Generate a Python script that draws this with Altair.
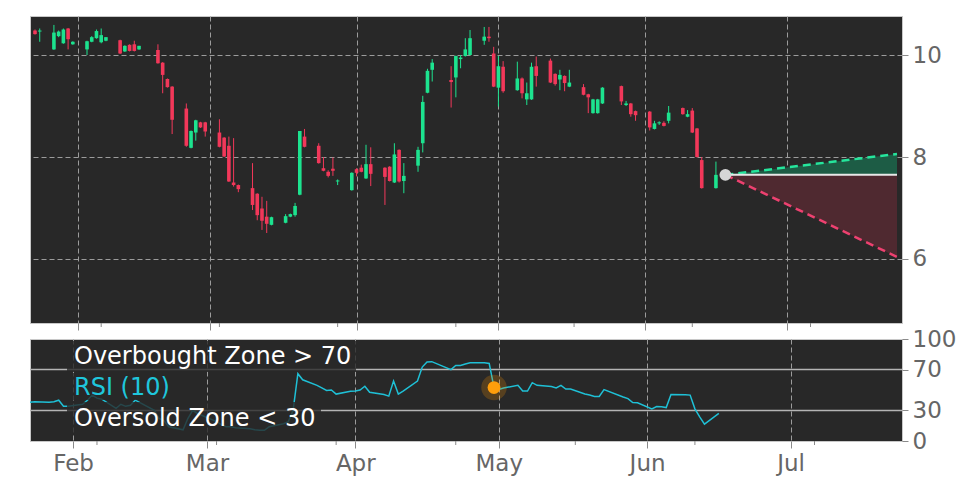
import altair as alt
import pandas as pd

# ---------------- data ----------------
dates = [
    "2025-01-23", "2025-01-24", "2025-01-27", "2025-01-28", "2025-01-29", "2025-01-30", "2025-01-31",
    "2025-02-03", "2025-02-04", "2025-02-05", "2025-02-06", "2025-02-07",
    "2025-02-10", "2025-02-11", "2025-02-12", "2025-02-13", "2025-02-14",
    "2025-02-18", "2025-02-19", "2025-02-20", "2025-02-21",
    "2025-02-24", "2025-02-25", "2025-02-26", "2025-02-27", "2025-02-28",
    "2025-03-03", "2025-03-04", "2025-03-05", "2025-03-06", "2025-03-07",
    "2025-03-10", "2025-03-11", "2025-03-12", "2025-03-13", "2025-03-14",
    "2025-03-17", "2025-03-18", "2025-03-19", "2025-03-20", "2025-03-21",
    "2025-03-24", "2025-03-25", "2025-03-26", "2025-03-27", "2025-03-28",
    "2025-03-31",
    "2025-04-01", "2025-04-02", "2025-04-03", "2025-04-04",
    "2025-04-07", "2025-04-08", "2025-04-09", "2025-04-10", "2025-04-11",
    "2025-04-14", "2025-04-15", "2025-04-16", "2025-04-17",
    "2025-04-21", "2025-04-22", "2025-04-23", "2025-04-24", "2025-04-25",
    "2025-04-28", "2025-04-29", "2025-04-30",
    "2025-05-01", "2025-05-02",
    "2025-05-05", "2025-05-06", "2025-05-07", "2025-05-08", "2025-05-09",
    "2025-05-12", "2025-05-13", "2025-05-14", "2025-05-15", "2025-05-16",
    "2025-05-19", "2025-05-20", "2025-05-21", "2025-05-22", "2025-05-23",
    "2025-05-27", "2025-05-28", "2025-05-29", "2025-05-30",
    "2025-06-02", "2025-06-03", "2025-06-04", "2025-06-05", "2025-06-06",
    "2025-06-09", "2025-06-10", "2025-06-11", "2025-06-12", "2025-06-13",
    "2025-06-16",
]

opens = [10.48, 10.46, 10.11, 10.37, 10.23, 10.52, 10.21,
         10.11, 10.26, 10.33, 10.25, 10.28,
         10.29, 10.07, 10.20, 10.21, 10.11,
         10.10, 9.85, 9.53, 9.38,
         8.95, 8.18, 8.48, 8.68, 8.68,
         8.48, 8.38, 8.22, 7.50, 7.45,
         7.39, 7.28, 6.99, 6.83, 6.67,
         6.71, 6.83, 6.86, 7.26, 8.40,
         8.22, 7.78, 7.71, 7.77, 7.52,
         7.35,
         7.76, 7.79, 7.58, 7.86,
         7.79, 7.81, 7.50, 8.14, 7.53,
         7.83, 8.27, 9.26, 9.71,
         9.51, 9.56, 9.92, 9.98, 10.00,
         10.28, 10.36, 10.03,
         9.36, 9.77,
         9.31, 9.54, 9.13, 9.13, 9.78,
         9.89, 9.63, 9.52, 9.59, 9.38,
         9.37, 9.23, 8.86, 8.86, 9.05,
         9.39, 9.02, 9.05, 8.90,
         8.89, 8.55, 8.66, 8.67, 8.71,
         8.96, 8.79, 8.91, 8.56, 7.94,
         7.39]

highs = [10.50, 10.52, 10.59, 10.48, 10.52, 10.53, 10.27,
         10.28, 10.37, 10.50, 10.52, 10.35,
         10.30, 10.19, 10.21, 10.28, 10.18,
         10.21, 9.86, 9.54, 9.39,
         9.05, 8.52, 8.73, 8.69, 8.69,
         8.74, 8.39, 8.40, 8.37, 7.46,
         7.88, 7.29, 7.22, 7.14, 6.83,
         6.88, 6.89, 7.10, 8.51, 8.55,
         8.27, 8.00, 7.74, 7.99, 7.56,
         7.70,
         7.78, 7.85, 8.24, 8.19,
         7.80, 7.82, 8.27, 8.15, 7.88,
         8.20, 9.20, 9.73, 9.92,
         9.78, 9.99, 10.00, 10.33, 10.49,
         10.55, 10.55, 10.16,
         9.98, 9.88,
         9.87, 9.56, 9.46, 9.85, 9.97,
         9.93, 9.64, 9.71, 9.60, 9.71,
         9.43, 9.24, 9.14, 9.14, 9.37,
         9.40, 9.10, 9.06, 8.91,
         8.90, 8.71, 8.70, 8.70, 9.00,
         8.97, 8.92, 8.96, 8.57, 8.00,
         7.91]

lows = [10.40, 10.26, 10.10, 10.35, 10.22, 10.11, 10.20,
        10.00, 10.25, 10.32, 10.23, 10.27,
        10.02, 10.06, 10.07, 10.07, 10.10,
        9.83, 9.25, 9.36, 8.45,
        8.20, 8.17, 8.32, 8.57, 8.40,
        8.19, 8.00, 7.51, 7.42, 7.31,
        6.96, 6.76, 6.57, 6.51, 6.66,
        6.70, 6.82, 6.83, 7.25, 8.19,
        7.87, 7.72, 7.60, 7.63, 7.45,
        7.34,
        7.62, 7.70, 7.57, 7.43,
        7.06, 7.52, 7.49, 7.50, 7.29,
        7.71, 8.09, 9.25, 9.48,
        8.97, 9.17, 9.74, 9.97, 9.99,
        10.20, 10.26, 9.37,
        8.99, 9.26,
        9.30, 9.15, 9.02, 9.12, 9.38,
        9.45, 9.40, 9.31, 9.29, 9.37,
        9.21, 8.86, 8.85, 8.85, 9.04,
        9.02, 9.00, 8.79, 8.71,
        8.52, 8.54, 8.63, 8.60, 8.66,
        8.83, 8.78, 8.47, 7.99, 7.38,
        7.38]

closes = [10.41, 10.48, 10.44, 10.46, 10.50, 10.31, 10.26,
          10.27, 10.35, 10.47, 10.39, 10.35,
          10.03, 10.18, 10.08, 10.08, 10.18,
          9.84, 9.61, 9.37, 8.73,
          8.22, 8.51, 8.72, 8.58, 8.50,
          8.20, 8.01, 7.52, 7.45, 7.37,
          7.06, 6.86, 6.75, 6.69, 6.82,
          6.84, 6.88, 7.04, 8.51, 8.20,
          7.88, 7.73, 7.63, 7.73, 7.54,
          7.69,
          7.69, 7.71, 7.86, 7.67,
          7.61, 7.53, 8.05, 7.52, 7.63,
          8.14, 9.08, 9.69, 9.85,
          9.47, 9.98, 9.95, 10.11, 10.33,
          10.36, 10.33, 9.38,
          9.78, 9.29,
          9.54, 9.25, 9.25, 9.77, 9.59,
          9.46, 9.43, 9.61, 9.45, 9.46,
          9.22, 9.17, 9.13, 9.13, 9.36,
          9.09, 9.05, 8.84, 8.82,
          8.58, 8.66, 8.68, 8.61, 8.87,
          8.84, 8.84, 8.48, 8.00, 7.39,
          7.65]

rsi_values = [38, 38.5, 38, 38.5, 40, 34, 34,
              36, 40, 45, 42, 41,
              32, 36, 34, 35, 40,
              30, 22, 20, 14,
              11, 22, 30, 27, 25,
              19, 16, 14, 14, 13,
              12, 11, 10.5, 10.5, 14,
              17, 19, 30, 66, 60,
              54.6, 52, 49.5, 50, 46,
              48.8,
              49, 50, 53.7, 47.8,
              45.5, 44, 58.8, 46, 49,
              58.8, 72.5, 77.4, 77.8,
              70, 74, 74, 75.5, 76.7,
              76.7, 76, 52.4,
              50.5, 52,
              54.6, 49, 49, 57.2, 54.6,
              53.5, 52, 54.6, 51, 51,
              46, 45, 43.6, 43.6, 50.4,
              43.2, 41.6, 37.7, 37.4,
              31.5, 33.8, 33.5, 32.8, 45.5,
              45.3, 45, 31.5, 23.7, 16.6,
              27]

month_ticks = ["2025-02-01", "2025-03-01", "2025-04-01", "2025-05-01", "2025-06-01", "2025-07-01"]
minor_ticks = ["2025-02-06", "2025-03-03", "2025-03-28", "2025-04-22", "2025-05-17", "2025-06-11", "2025-07-06"]
x_domain = ["2025-01-23T00:00:00Z", "2025-07-24T07:00:00Z"]

price_ticks = [6, 8, 10]
price_domain = [4.745, 10.765]
rsi_ticks = [0, 30, 70, 100]
rsi_levels = [30, 70]

proj_dates = ["2025-06-18T00:00:00Z", "2025-07-24T07:00:00Z"]
proj_mid = [7.65, 7.65]
proj_hi = [7.65, 8.06]
proj_lo = [7.65, 6.04]

dot_date = ["2025-06-18T00:00:00Z"]
dot_price = [7.65]

signal_date = ["2025-04-30"]
signal_rsi = [52.4]

legend_texts = ["Overbought Zone > 70", "RSI (10)", "Oversold Zone < 30"]
legend_colors = ["#ffffff", "#1fc6dc", "#ffffff"]

# ---------------- styling ----------------
GREEN = "#1de38f"
RED = "#f2385a"
PANEL = "#282828"
LABEL = "#666666"
TICK = "#8a8a8a"
GRID = "#9c9c9c"
FONT = "DejaVu Sans"

W = 872
H_TOP = 307
H_BOT = 102

candles = pd.DataFrame({
    "date": dates, "open": opens, "high": highs, "low": lows, "close": closes,
})
candles["dir"] = ["up" if c >= o else "down" for o, c in zip(opens, closes)]
rsi_df = pd.DataFrame({"date": dates, "rsi": rsi_values})
proj = pd.DataFrame({"date": proj_dates, "mid": proj_mid, "hi": proj_hi, "lo": proj_lo})
dot = pd.DataFrame({"date": dot_date, "price": dot_price})
sig = pd.DataFrame({"date": signal_date, "rsi": signal_rsi})
levels = pd.DataFrame({"level": rsi_levels})
minor_df = pd.DataFrame({"date": minor_ticks})
one = pd.DataFrame({"a": [0]})

xscale = alt.Scale(type="utc", domain=x_domain)
color_scale = alt.Scale(domain=["up", "down"], range=[GREEN, RED])
pscale = alt.Scale(domain=price_domain, zero=False, nice=False)
rscale = alt.Scale(domain=[0, 100], nice=False)


def month_axis(labels):
    return alt.Axis(
        values=month_ticks, format="%b", labels=labels, title=None,
        grid=True, gridColor=GRID, gridDash=[5, 3], gridWidth=1,
        ticks=True, tickSize=7, tickColor=TICK, domain=False,
        labelFontSize=23, labelColor=LABEL, labelPadding=4, labelFont=FONT,
    )


price_axis = alt.Axis(
    values=price_ticks, orient="right", title=None, grid=True,
    gridColor=GRID, gridDash=[5, 3], gridWidth=1,
    ticks=True, tickSize=6, tickColor=TICK, domain=False,
    labelFontSize=23, labelColor=LABEL, labelPadding=4, labelFont=FONT,
)

rsi_axis = alt.Axis(
    values=rsi_ticks, orient="right", title=None, grid=False,
    ticks=True, tickSize=6, tickColor=TICK, domain=False,
    labelFontSize=23, labelColor=LABEL, labelPadding=4, labelFont=FONT,
)

TOP_X = month_axis(False)
BOT_X = month_axis(True)


def tx(field="date:T"):
    return alt.X(field, scale=xscale, axis=TOP_X)


def ty(field):
    return alt.Y(field, scale=pscale, axis=price_axis)


def bx(field="date:T"):
    return alt.X(field, scale=xscale, axis=BOT_X)


def by(field):
    return alt.Y(field, scale=rscale, axis=rsi_axis)


# ---------------- top panel ----------------
bodies = alt.Chart(candles).mark_bar(size=3.6, clip=True).encode(
    x=tx(), y=ty("open:Q"), y2="close:Q",
    color=alt.Color("dir:N", scale=color_scale, legend=None),
)
wicks = alt.Chart(candles).mark_rule(strokeWidth=1, clip=True).encode(
    x=tx(), y=ty("low:Q"), y2="high:Q",
    color=alt.Color("dir:N", scale=color_scale, legend=None),
)
area_up = alt.Chart(proj).mark_area(color="#1d5c45", opacity=1, clip=True).encode(
    x=tx(), y=ty("mid:Q"), y2="hi:Q",
)
area_dn = alt.Chart(proj).mark_area(color="#4f2930", opacity=1, clip=True).encode(
    x=tx(), y=ty("lo:Q"), y2="mid:Q",
)
line_up = alt.Chart(proj).mark_line(color="#25e59c", strokeDash=[8, 5], strokeWidth=2.5, clip=True).encode(
    x=tx(), y=ty("hi:Q"),
)
line_dn = alt.Chart(proj).mark_line(color="#ee4170", strokeDash=[8, 5], strokeWidth=2.5, clip=True).encode(
    x=tx(), y=ty("lo:Q"),
)
line_mid = alt.Chart(proj).mark_line(color="#e8e8e8", strokeWidth=2, clip=True).encode(
    x=tx(), y=ty("mid:Q"),
)
dot_mark = alt.Chart(dot).mark_circle(size=140, color="#d6d6d6", opacity=1).encode(
    x=tx(), y=ty("price:Q"),
)
top_minor = alt.Chart(minor_df).mark_rule(color=TICK, strokeWidth=1).encode(
    x=tx(), y=alt.value(H_TOP), y2=alt.value(H_TOP + 4),
)

top = alt.layer(
    bodies, wicks, area_up, area_dn, line_up, line_dn, line_mid, dot_mark, top_minor,
).properties(width=W, height=H_TOP)

# ---------------- bottom panel ----------------
rsi_line = alt.Chart(rsi_df).mark_line(color="#1fc0d6", strokeWidth=1.5).encode(
    x=bx(), y=by("rsi:Q"),
)
level_rules = alt.Chart(levels).mark_rule(color="#b4b4b4", strokeWidth=1.5).encode(
    y=by("level:Q"),
)
box_specs = [(37, 326, 2, 33), (37, 146, 34, 61), (37, 291, 63, 95)]
boxes = [
    alt.Chart(one).mark_rect(color=PANEL, opacity=0.8).encode(
        x=alt.value(x0), x2=alt.value(x1), y=alt.value(y0), y2=alt.value(y1)
    )
    for (x0, x1, y0, y1) in box_specs
]
halo = alt.Chart(sig).mark_circle(size=650, color="#ff9800", opacity=0.22).encode(
    x=bx(), y=by("rsi:Q"),
)
sig_dot = alt.Chart(sig).mark_circle(size=165, color="#ff9e0b", opacity=1).encode(
    x=bx(), y=by("rsi:Q"),
)
text_y = [25.3, 56, 87]
texts = [
    alt.Chart(one).mark_text(
        text=t, color=c, fontSize=24, font=FONT, align="left", baseline="alphabetic"
    ).encode(x=alt.value(44), y=alt.value(yy))
    for t, c, yy in zip(legend_texts, legend_colors, text_y)
]
bot_minor = alt.Chart(minor_df).mark_rule(color=TICK, strokeWidth=1).encode(
    x=bx(), y=alt.value(H_BOT), y2=alt.value(H_BOT + 4),
)

bottom = alt.layer(
    level_rules, rsi_line, *boxes, halo, sig_dot, *texts, bot_minor,
).properties(width=W, height=H_BOT)

chart = alt.vconcat(top, bottom, spacing=16, bounds="flush").properties(
    padding={"left": 18, "top": 7, "right": 0, "bottom": 0},
    background="white",
).configure_view(
    fill=PANEL, stroke="#c8c8c8", strokeWidth=1,
)

chart.save("out.html", embed_options={"renderer": "svg", "actions": False})
